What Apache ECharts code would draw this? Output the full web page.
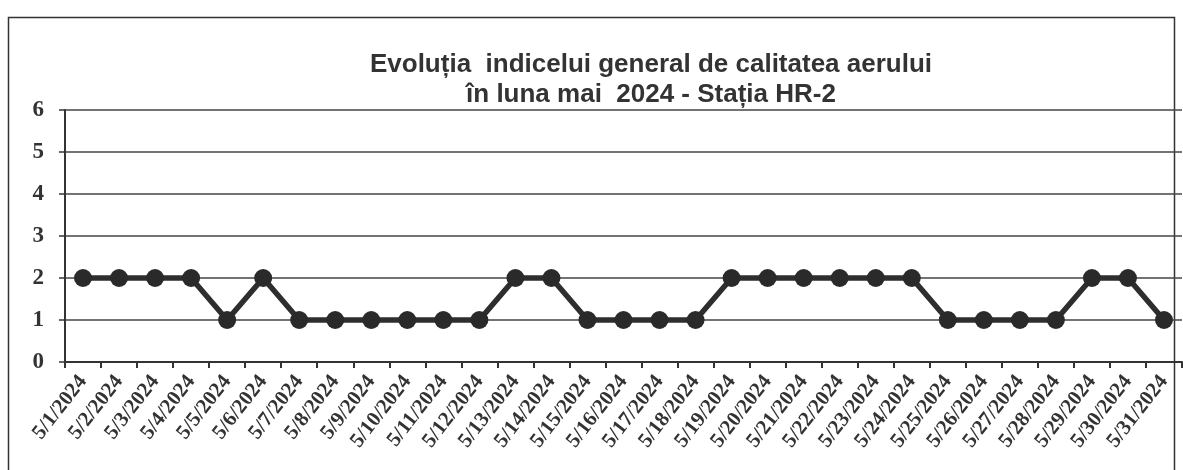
<!DOCTYPE html>
<html>
<head>
<meta charset="utf-8">
<script src="https://cdn.jsdelivr.net/npm/echarts@6/dist/echarts.min.js"></script>
<style>
  html, body { margin: 0; padding: 0; background: #fff; }
  #chart { width: 1183px; height: 470px; }
</style>
</head>
<body>
<div id="chart"></div>
<script>
// date categories
const days = [
  "5/1/2024", "5/2/2024", "5/3/2024", "5/4/2024", "5/5/2024", "5/6/2024", "5/7/2024",
  "5/8/2024", "5/9/2024", "5/10/2024", "5/11/2024", "5/12/2024", "5/13/2024", "5/14/2024",
  "5/15/2024", "5/16/2024", "5/17/2024", "5/18/2024", "5/19/2024", "5/20/2024", "5/21/2024",
  "5/22/2024", "5/23/2024", "5/24/2024", "5/25/2024", "5/26/2024", "5/27/2024", "5/28/2024",
  "5/29/2024", "5/30/2024", "5/31/2024"
];
// general air quality index
const indexValues = [
  2, 2, 2, 2, 1, 2, 1, 1, 1, 1, 1, 1, 2, 2, 1, 1, 1, 1, 2, 2, 2, 2, 2, 2, 1, 1, 1, 1, 2, 2, 1
];
const yTicks = [0, 1, 2, 3, 4, 5, 6];

const chart = echarts.init(document.getElementById("chart"));

const option = {
  backgroundColor: "#fff",
  animation: false,
  title: {
    text: "Evoluția  indicelui general de calitatea aerului\nîn luna mai  2024 - Stația HR-2",
    left: 646,
    textAlign: "center",
    top: 45,
    textStyle: {
      fontFamily: "Liberation Sans, Arial",
      fontSize: 26,
      fontWeight: "bold",
      color: "#333",
      lineHeight: 30
    }
  },
  // outer frame of the scanned chart
  graphic: [{
    type: "rect",
    shape: { x: 8.5, y: 17.5, width: 1166, height: 480 },
    style: { fill: "none", stroke: "#333", lineWidth: 1.5 },
    silent: true
  }],
  grid: {
    left: 65,
    right: 1,
    top: 110,
    bottom: 108
  },
  xAxis: {
    type: "category",
    data: days,
    boundaryGap: true,
    axisLine: { lineStyle: { color: "#333", width: 2 } },
    axisTick: { show: true, alignWithLabel: false, length: 6, lineStyle: { color: "#333", width: 2 } },
    axisLabel: {
      interval: 0,
      rotate: 52,
      margin: 16,
      fontFamily: "Liberation Serif, Times New Roman",
      fontWeight: "bold",
      fontSize: 21,
      color: "#333"
    }
  },
  yAxis: {
    type: "value",
    min: yTicks[0],
    max: yTicks[yTicks.length - 1],
    interval: 1,
    axisLine: { show: true, lineStyle: { color: "#333", width: 2 } },
    axisTick: { show: true, length: 6, lineStyle: { color: "#333", width: 1.5 } },
    axisLabel: {
      margin: 21,
      fontFamily: "Liberation Serif, Times New Roman",
      fontWeight: "bold",
      fontSize: 23,
      color: "#333"
    },
    splitLine: { lineStyle: { color: "#444", width: 1.5 } }
  },
  series: [{
    type: "line",
    data: indexValues,
    symbol: "circle",
    symbolSize: 18,
    lineStyle: { color: "#2e2e2e", width: 5.5 },
    itemStyle: { color: "#2a2a2a" }
  }]
};

chart.setOption(option);
</script>
</body>
</html>
